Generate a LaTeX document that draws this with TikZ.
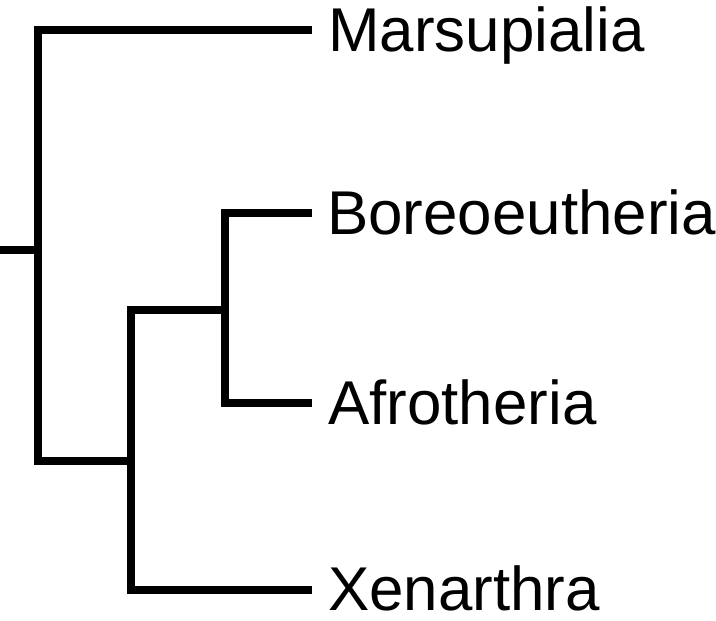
\documentclass[tikz,border=0pt]{standalone}
\usepackage{fontspec}
\setmainfont{Liberation Sans}
\tikzset{
	branch/.style={line width=4.3pt, color=black, line join=miter},
	taxon/.style={anchor=base west, inner sep=0pt, font=\fontsize{35.2}{41}\selectfont}
}

\begin{document}
\begin{tikzpicture}[x=0.02cm, y=-0.02cm]
		%%%%% START %%%%%
		
		\useasboundingbox (0, 0) rectangle (716, 621);
		
		\coordinate (root) at (0, 250);
		\coordinate (n1) at (38, 250);
		\coordinate (n2) at (131, 461);
		\coordinate (n3) at (225, 310);
		
		\coordinate (tipM) at (312, 30);
		\coordinate (tipB) at (312, 213);
		\coordinate (tipA) at (312, 403);
		\coordinate (tipX) at (312, 590);
		
		\node[taxon] (mars) at (328, 51.5) {Marsupialia};
		\node[taxon] (boreo) at (327, 234.5) {Boreoeutheria};
		\node[taxon] (afro) at (328, 424.5) {Afrotheria};
		\node[taxon] (xen) at (328, 610.5) {Xenarthra};
		
		\draw[branch] (root) -- (n1);
		\draw[branch] (tipM) -| (n1) |- (n2);
		\draw[branch] (tipX) -| (n2) |- (n3);
		\draw[branch] (tipB) -| (n3) |- (tipA);
		
		%%%%% END %%%%%
	\end{tikzpicture}
\end{document}
